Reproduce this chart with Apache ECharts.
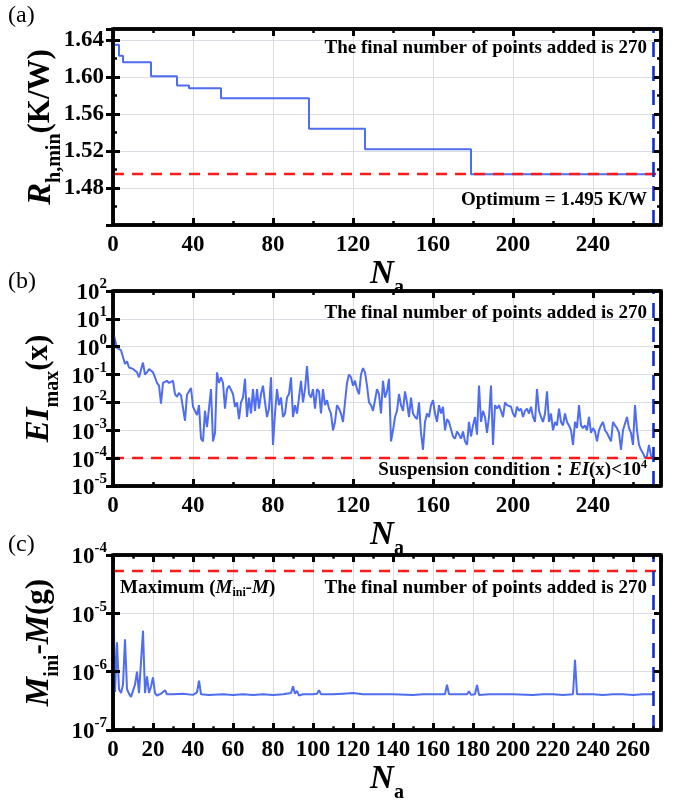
<!DOCTYPE html>
<html lang="en">
<head>
<meta charset="UTF-8">
<title>Convergence history</title>
<script src="https://cdn.jsdelivr.net/npm/echarts@6/dist/echarts.min.js"></script>
<style>html,body{margin:0;padding:0;background:#fff;}</style>
</head>
<body>
<div id="main" style="width:674px;height:804px;"></div>
<script>
// ---- data ----
// (a) best thermal resistance so far (value holds from each N_a until the next)
var aNa = [0, 3, 5, 19, 32, 38, 54, 98, 126, 179, 270];
var aRh = [1.635, 1.623, 1.616, 1.601, 1.591, 1.588, 1.577, 1.544, 1.522, 1.495, 1.495];
var aOptimum = 1.495;

// (b) max expected improvement per iteration (N_a = 0, 1, 2, ...)
var bEI = [
  3.5, 3.2, 0.9, 0.8, 0.75, 0.7, 0.24, 0.3, 0.18, 0.2,
  0.16, 0.14, 0.12, 0.08, 0.15, 0.27, 0.1, 0.12, 0.16, 0.14,
  0.12, 0.08, 0.05, 0.04, 0.009, 0.05, 0.045, 0.06, 0.05, 0.055,
  0.06, 0.02, 0.016, 0.022, 0.018, 0.016, 0.0022, 0.019, 0.022, 0.033,
  0.007, 0.006, 0.0035, 0.008, 0.0005, 0.0004, 0.005, 0.0013, 0.0015, 0.03,
  0.0004, 0.0008, 0.12, 0.05, 0.08, 0.05, 0.006, 0.03, 0.04, 0.045,
  0.02, 0.007, 0.01, 0.0025, 0.01, 0.015, 0.07, 0.003, 0.015, 0.004,
  0.03, 0.005, 0.03, 0.006, 0.02, 0.04, 0.01, 0.003, 0.006, 0.08,
  0.0003, 0.004, 0.03, 0.008, 0.015, 0.003, 0.004, 0.015, 0.02, 0.08,
  0.003, 0.008, 0.004, 0.015, 0.06, 0.01, 0.03, 0.2, 0.02, 0.015,
  0.03, 0.006, 0.03, 0.025, 0.004, 0.03, 0.008, 0.012, 0.006, 0.004,
  0.001, 0.002, 0.008, 0.006, 0.004, 0.002, 0.01, 0.05, 0.1, 0.08,
  0.04, 0.06, 0.03, 0.02, 0.1, 0.17, 0.12, 0.04, 0.01, 0.008,
  0.005, 0.012, 0.03, 0.02, 0.004, 0.06, 0.015, 0.025, 0.07, 0.0004,
  0.001, 0.003, 0.005, 0.02, 0.008, 0.005, 0.025, 0.01, 0.003, 0.015,
  0.004, 0.003, 0.0025, 0.01, 0.0008, 0.0002, 0.002, 0.004, 0.003, 0.008,
  0.012, 0.004, 0.002, 0.008, 0.004, 0.007, 0.001, 0.0025, 0.002, 0.002,
  0.0006, 0.0005, 0.0009, 0.0007, 0.0005, 0.0009, 0.0004, 0.0003, 0.002, 0.0006,
  0.0015, 0.003, 0.0007, 0.04, 0.002, 0.005, 0.003, 0.0008, 0.003, 0.04,
  0.0003, 0.008, 0.006, 0.008, 0.005, 0.003, 0.01, 0.008, 0.009, 0.007,
  0.004, 0.003, 0.007, 0.005, 0.006, 0.003, 0.005, 0.006, 0.004, 0.007,
  0.003, 0.002, 0.03, 0.005, 0.003, 0.002, 0.004, 0.025, 0.002, 0.004,
  0.001, 0.002, 0.0015, 0.006, 0.002, 0.0015, 0.004, 0.002, 0.0015, 0.001,
  0.0003, 0.002, 0.0012, 0.008, 0.0015, 0.0012, 0.0015, 0.001, 0.003, 0.0008,
  0.0012, 0.0009, 0.0004, 0.001, 0.0015, 0.002, 0.001, 0.0008, 0.0009, 0.0004,
  0.002, 0.0015, 0.0012, 0.0008, 0.0002, 0.001, 0.0009, 0.003, 0.0012, 0.0008,
  0.0003, 0.008, 0.001, 0.0003, 0.0002, 0.00015, 0.0001, 0.00012, 0.0003, 0.00012,
  0.0001
];
var bLimit = 1e-4;

// (c) mass difference, spikes on a flat floor
var cNa = [0, 1, 2, 3, 4, 5, 6, 7, 8, 9, 10, 11, 12, 13, 14, 15, 16, 17, 18, 19, 20, 21, 22, 23, 24, 25, 26, 27,
  30, 35, 40, 42, 43, 44, 48, 55, 60, 65, 70, 75, 80, 85, 89, 90, 91, 92, 93, 95, 100, 102, 103, 104,
  110, 115, 120, 125, 130, 140, 150, 155, 160, 166, 167, 168, 172, 177, 178, 179, 181, 182, 183, 188,
  193, 194, 195, 200, 210, 215, 220, 225, 230, 231, 232, 235, 240, 245, 250, 255, 260, 265, 270];
var cDm = [5.3e-5, 4.5e-7, 3.2e-6, 5e-7, 4.3e-7, 6e-7, 3.6e-6, 5e-7, 4.2e-7, 3.7e-7, 3.5e-7, 6e-7, 1.0e-6, 4.3e-7, 4.5e-7, 5e-6, 4.3e-7, 8.3e-7, 4.3e-7, 5.5e-7, 8e-7, 4.3e-7, 3.9e-7, 4e-7, 4.2e-7, 4.3e-7, 4.8e-7, 4.1e-7,
  4.1e-7, 4.2e-7, 4.0e-7, 4.4e-7, 7e-7, 4.1e-7, 4.0e-7, 4.1e-7, 4.0e-7, 4.1e-7, 4.0e-7, 4.1e-7, 4.0e-7, 4.1e-7, 4.3e-7, 5.6e-7, 4.2e-7, 4.7e-7, 3.9e-7, 4.1e-7, 4.1e-7, 4.2e-7, 4.8e-7, 4.1e-7,
  4.1e-7, 4.2e-7, 4.3e-7, 4.1e-7, 4.1e-7, 4.1e-7, 4.0e-7, 4.1e-7, 4.1e-7, 4.1e-7, 6e-7, 4.1e-7, 4.1e-7, 4.1e-7, 4.6e-7, 4.0e-7, 4.1e-7, 5.9e-7, 4.0e-7, 4.1e-7,
  4.1e-7, 4.4e-7, 4.1e-7, 4.1e-7, 4.0e-7, 4.1e-7, 4.1e-7, 4.0e-7, 4.1e-7, 1.6e-6, 4.1e-7, 4.1e-7, 4.1e-7, 4.0e-7, 4.1e-7, 4.1e-7, 4.0e-7, 4.1e-7, 4.1e-7];
var cMaximum = 5.3e-5;

var finalNa = 270;
var xMax = 274;

// tick positions of the frame (major + minor)
var xTicksAB = [0, 20, 40, 60, 80, 100, 120, 140, 160, 180, 200, 220, 240, 260];
var xTicksC = [10, 20, 30, 40, 50, 60, 70, 80, 90, 100, 110, 120, 130, 140, 150, 160, 170, 180, 190, 200, 210, 220, 230, 240, 250, 260, 270];
var aYTickVals = [1.46, 1.48, 1.50, 1.52, 1.54, 1.56, 1.58, 1.60, 1.62, 1.64];
var bYTicks = [1e-4, 1e-3, 1e-2, 1e-1, 1, 10];
var cYTicks = [1e-6, 1e-5];

// ---- styling ----
var FONT = '"Liberation Serif", "Times New Roman", serif';
var BLUE = '#4f6df0';
var PLOT_W = 548;

function nameRich() {
  return {
    i: {fontFamily: FONT, fontWeight: 'bold', fontStyle: 'italic', fontSize: 33, lineHeight: 40, verticalAlign: 'top', color: '#000'},
    n: {fontFamily: FONT, fontWeight: 'bold', fontSize: 31, lineHeight: 40, verticalAlign: 'top', color: '#000'},
    s: {fontFamily: FONT, fontWeight: 'bold', fontSize: 20, lineHeight: 40, verticalAlign: 'bottom', color: '#000'}
  };
}
function tick() {
  return {show: true, inside: true, length: 7, lineStyle: {color: '#000', width: 3}};
}

function xAxes(gi, interval, gap) {
  return [
    {gridIndex: gi, type: 'value', position: 'bottom', min: 0, max: xMax, interval: interval,
      axisLine: {show: false}, axisTick: tick(),
      name: '{i|N}{s|a}', nameLocation: 'middle', nameGap: gap,
      nameTextStyle: {color: '#000', rich: nameRich()},
      axisLabel: {showMaxLabel: false, margin: 9, color: '#000', fontFamily: FONT, fontWeight: 'bold', fontSize: 23}},
    {gridIndex: gi, type: 'value', position: 'top', min: 0, max: xMax, interval: interval,
      axisLine: {show: false}, axisTick: tick(), axisLabel: {show: false}}
  ];
}

var powRich = {
  b: {fontFamily: FONT, fontWeight: 'bold', fontSize: 23, lineHeight: 28, verticalAlign: 'bottom', color: '#000'},
  s: {fontFamily: FONT, fontWeight: 'bold', fontSize: 15, lineHeight: 28, verticalAlign: 'top', color: '#000'}
};

function logYAxes(gi, lo, hi, name, gap) {
  return [
    {gridIndex: gi, type: 'log', logBase: 10, min: lo, max: hi, position: 'left',
      axisLine: {show: false}, axisTick: tick(),
      name: name, nameLocation: 'middle', nameRotate: 90, nameGap: gap, nameMoveOverlap: false,
      nameTextStyle: {color: '#000', rich: nameRich()},
      axisLabel: {
        margin: 6, rich: powRich,
        formatter: function (v) { return '{b|10}{s|' + Math.round(Math.log10(v)) + '}'; }
      }},
    {gridIndex: gi, type: 'log', logBase: 10, min: lo, max: hi, position: 'right',
      axisLine: {show: false}, axisTick: tick(), axisLabel: {show: false}}
  ];
}

var xs = [].concat(xAxes(0, 40, 31), xAxes(1, 40, 31), xAxes(2, 20, 33));
var ys = [
  {gridIndex: 0, type: 'value', min: 1.44, max: 1.652, interval: 0.04, position: 'left',
    axisLine: {show: false}, axisTick: tick(),
    name: '{i|R}{s|h,min}{n|(K/W)}', nameLocation: 'middle', nameRotate: 90, nameGap: 48, nameMoveOverlap: false,
    nameTextStyle: {color: '#000', rich: nameRich()},
    axisLabel: {showMinLabel: false, showMaxLabel: false, margin: 9, color: '#000',
      fontFamily: FONT, fontWeight: 'bold', fontSize: 23,
      formatter: function (v) { return v.toFixed(2); }}},
  {gridIndex: 0, type: 'value', min: 1.44, max: 1.652, interval: 0.04, position: 'right',
    axisLine: {show: false}, axisTick: tick(), axisLabel: {show: false}}
].concat(
  logYAxes(1, 1e-5, 1e2, '{i|EI}{s|max}{n|(x)}', 50),
  logYAxes(2, 1e-7, 1e-4, '{i|M}{s|ini}{n|-}{i|M}{n|(g)}', 50)
);

// frame and inward ticks, drawn as marker segments on each panel's axes
var panels = [
  {lo: 1.44, hi: 1.652, h: 196, log: false, xt: xTicksAB, xStep: 40, yt: aYTickVals,
    yMajor: function (v) { return Math.abs(Math.round(v / 0.04) * 0.04 - v) < 1e-9; }},
  {lo: 1e-5, hi: 1e2, h: 195, log: true, xt: xTicksAB, xStep: 40, yt: bYTicks,
    yMajor: function () { return true; }},
  {lo: 1e-7, hi: 1e-4, h: 188, log: true, xt: xTicksC, xStep: 20, yt: cYTicks,
    yMajor: function () { return true; }}
];
function yUp(p, v, px) {
  return p.log ? v * Math.pow(p.hi / p.lo, px / p.h) : v + (p.hi - p.lo) * px / p.h;
}
function yDown(p, v, px) {
  return p.log ? v / Math.pow(p.hi / p.lo, px / p.h) : v - (p.hi - p.lo) * px / p.h;
}
function seg(x1, y1, x2, y2, w) {
  var st = {color: '#000', type: 'solid', width: w, opacity: 1};
  return [{coord: [x1, y1], lineStyle: st}, {coord: [x2, y2], lineStyle: st}];
}
function frameData(p) {
  var d = [];
  var xPerPx = xMax / PLOT_W;
  d.push(seg(0, p.lo, xMax, p.lo, 3.5));
  d.push(seg(0, p.hi, xMax, p.hi, 3.5));
  d.push(seg(0, p.lo, 0, p.hi, 3.5));
  d.push(seg(xMax, p.lo, xMax, p.hi, 3.5));
  p.xt.forEach(function (v) {
    var major = v % p.xStep === 0;
    var len = major ? 7 : 4;
    var w = major ? 3 : 2.5;
    d.push(seg(v, p.lo, v, yUp(p, p.lo, len), w));
    d.push(seg(v, p.hi, v, yDown(p, p.hi, len), w));
  });
  p.yt.forEach(function (v) {
    var major = p.yMajor(v);
    var len = major ? 7 : 4;
    var w = major ? 3 : 2.5;
    d.push(seg(0, v, len * xPerPx, v, w));
    d.push(seg(xMax, v, xMax - len * xPerPx, v, w));
  });
  return d;
}

function marks(hValue, p) {
  return {
    symbol: 'none', silent: true, precision: 10, label: {show: false},
    data: [
      {yAxis: hValue, lineStyle: {color: '#ff1a1a', type: [11, 8], width: 2.3}},
      {xAxis: finalNa, lineStyle: {color: '#1030c8', type: [15, 9], width: 2.6}}
    ].concat(frameData(p))
  };
}

// step shape for (a): hold each value until the next change point
var aData = [];
aNa.forEach(function (x, i) {
  if (i > 0) aData.push([x, aRh[i - 1]]);
  aData.push([x, aRh[i]]);
});
var bData = bEI.map(function (v, i) { return [i, v]; });
var cData = cNa.map(function (x, i) { return [x, cDm[i]]; });

function txt(x, y, text, align, extra) {
  return {
    type: 'text', z: 100,
    style: Object.assign({
      x: x, y: y, text: text, fill: '#000', align: align, verticalAlign: 'middle',
      font: 'bold 19px ' + FONT
    }, extra || {})
  };
}
var annRich = {
  n: {fontFamily: FONT, fontWeight: 'bold', fontSize: 19},
  i: {fontFamily: FONT, fontWeight: 'bold', fontStyle: 'italic', fontSize: 19},
  sub: {fontFamily: FONT, fontWeight: 'bold', fontSize: 12, padding: [10, 0, 0, 0]},
  sup: {fontFamily: FONT, fontWeight: 'bold', fontSize: 12, padding: [0, 0, 10, 0]}
};

function box(top, height) {
  return {left: 113, right: 13, top: top, height: height, show: true, borderColor: '#000', borderWidth: 3.5};
}

var chart = echarts.init(document.getElementById('main'));
chart.setOption({
  animation: false,
  grid: [box(29, 196), box(291, 195), box(555, 188)],
  xAxis: xs,
  yAxis: ys,
  series: [
    {type: 'line', xAxisIndex: 0, yAxisIndex: 0, data: aData, showSymbol: false,
      lineStyle: {color: BLUE, width: 2}, markLine: marks(aOptimum, panels[0])},
    {type: 'line', xAxisIndex: 2, yAxisIndex: 2, data: bData, showSymbol: false,
      lineStyle: {color: BLUE, width: 2}, markLine: marks(bLimit, panels[1])},
    {type: 'line', xAxisIndex: 4, yAxisIndex: 4, data: cData, showSymbol: false,
      lineStyle: {color: BLUE, width: 2}, markLine: marks(cMaximum, panels[2])}
  ],
  graphic: [
    txt(8, 16, '(a)', 'left', {font: '24px ' + FONT}),
    txt(8, 282, '(b)', 'left', {font: '24px ' + FONT}),
    txt(8, 545, '(c)', 'left', {font: '24px ' + FONT}),
    txt(647, 48, 'The final number of points added is 270', 'right'),
    txt(647, 200, 'Optimum = 1.495 K/W', 'right'),
    txt(647, 313, 'The final number of points added is 270', 'right'),
    txt(647, 470, '{n|Suspension condition：}{i|EI}{n|(x)<10}{sup|4}', 'right', {rich: annRich}),
    txt(120, 588, '{n|Maximum (}{i|M}{sub|ini}{i|-M}{n|)}', 'left', {rich: annRich}),
    txt(647, 588, 'The final number of points added is 270', 'right')
  ]
});
</script>
</body>
</html>
